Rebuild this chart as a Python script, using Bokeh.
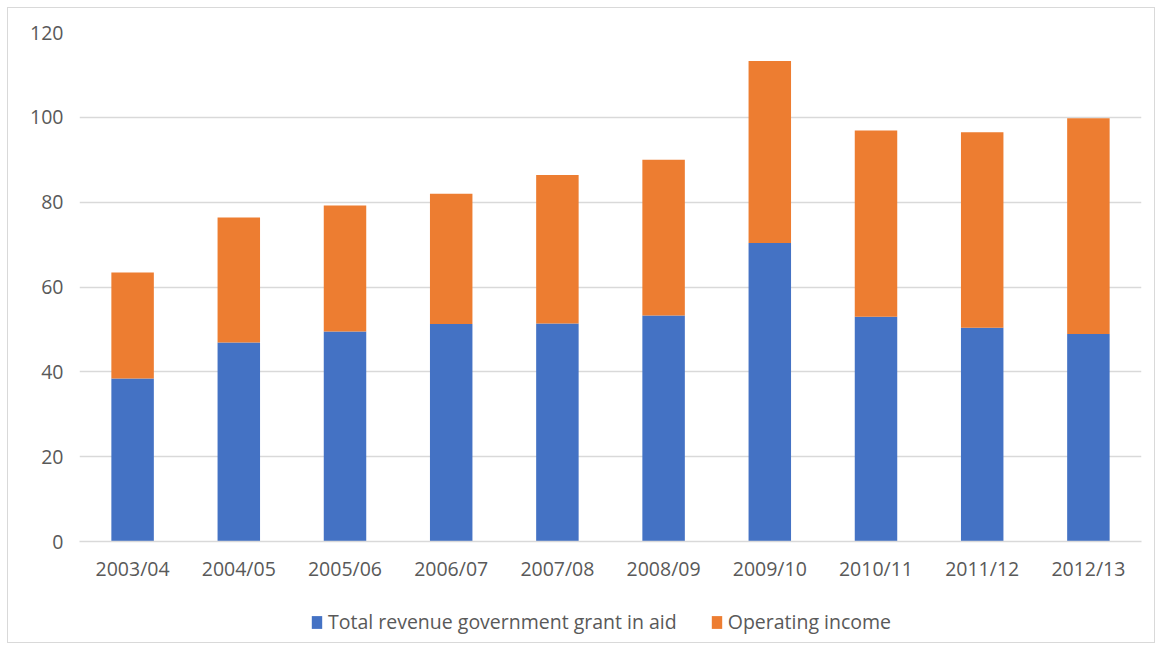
from bokeh.plotting import figure
from bokeh.layouts import column
from bokeh.models import ColumnDataSource, Legend, LegendItem, FixedTicker, Range1d
from bokeh.embed import file_html
from bokeh.resources import INLINE

years = ["2003/04", "2004/05", "2005/06", "2006/07", "2007/08",
         "2008/09", "2009/10", "2010/11", "2011/12", "2012/13"]
grant_in_aid = [38.4, 46.9, 49.5, 51.3, 51.4, 53.3, 70.4, 53.0, 50.4, 48.9]
operating_income = [25.0, 29.5, 29.7, 30.7, 35.0, 36.7, 42.9, 43.9, 46.1, 50.9]
y_ticks = [0, 20, 40, 60, 80, 100, 120]

series_names = ["Total revenue government grant in aid", "Operating income"]
colors = ["#4472C4", "#ED7D31"]

source = ColumnDataSource(dict(year=years, grant=grant_in_aid, operating=operating_income))

FONT = "Open Sans"
FS = "19.5px"
TXT = "#595959"
GRID = "#d9d9d9"

p = figure(x_range=years, y_range=(0, 120), width=1146, height=590,
           output_backend="svg", toolbar_location=None,
           min_border_left=71, min_border_right=13, min_border_top=24, min_border_bottom=57)

r = p.vbar_stack(["grant", "operating"], x="year", width=0.4, source=source,
                 color=colors, line_color=None)

p.outline_line_color = None

p.xgrid.grid_line_color = None
p.ygrid.grid_line_color = GRID
p.ygrid.grid_line_width = 1.5

p.yaxis.ticker = FixedTicker(ticks=y_ticks)
p.yaxis.axis_line_color = None
p.yaxis.major_tick_line_color = None
p.yaxis.minor_tick_line_color = None
p.yaxis.major_label_standoff = 10
p.yaxis.major_label_text_font = FONT
p.yaxis.major_label_text_font_size = FS
p.yaxis.major_label_text_color = TXT

p.xaxis.axis_line_color = GRID
p.xaxis.axis_line_width = 1.5
p.xaxis.major_tick_line_color = None
p.xaxis.minor_tick_line_color = None
p.xaxis.major_label_standoff = 7
p.xaxis.major_label_text_font = FONT
p.xaxis.major_label_text_font_size = FS
p.xaxis.major_label_text_color = TXT

# legend strip: a second figure holding only the legend
lg = figure(width=1146, height=44, output_backend="svg", toolbar_location=None,
            x_axis_location=None, y_axis_location=None,
            x_range=Range1d(0, 1), y_range=Range1d(0, 1), min_border=0)
lg.grid.visible = False
lg.outline_line_color = None
# swatch renderers: zero-height bars placed outside the visible range
swatches = [lg.vbar(x=[-5], top=[0], bottom=[0], width=0.1, color=c, line_color=None)
            for c in colors]

legend = Legend(items=[LegendItem(label=series_names[i], renderers=[swatches[i]]) for i in range(2)],
                orientation="horizontal", location=(231, 7),
                glyph_width=13, glyph_height=16, label_standoff=5, spacing=33,
                padding=2, margin=0, border_line_color=None,
                background_fill_alpha=0,
                label_text_font=FONT, label_text_font_size=FS,
                label_text_color=TXT)
lg.add_layout(legend, "center")

layout = column(p, lg, styles={"border": "1px solid #d9d9d9", "margin": "7px 0 0 7px"})

open("out.html", "w").write(file_html(layout, INLINE))
